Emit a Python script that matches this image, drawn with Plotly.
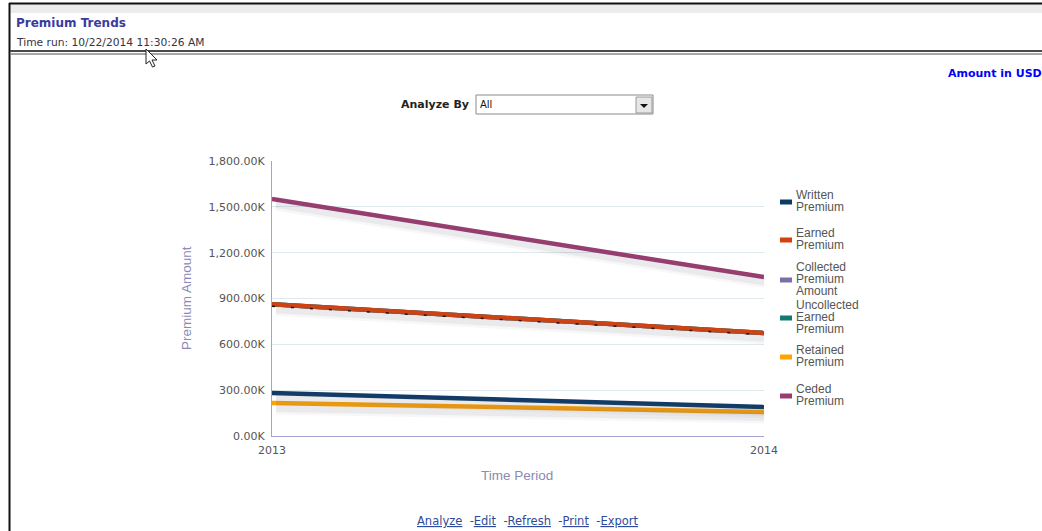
import plotly.graph_objects as go

# ---- data (amounts in thousands of USD) ----
periods = [2013, 2014]
written_premium = [281, 190]
earned_premium = [862, 674]
collected_premium = [862, 674]
uncollected_earned_premium = [862, 674]
retained_premium = [216, 157]
ceded_premium = [1551, 1040]
earned_trend = [849, 663]

series_names = ["Written<br>Premium", "Earned<br>Premium", "Collected<br>Premium<br>Amount",
                "Uncollected<br>Earned<br>Premium", "Retained<br>Premium", "Ceded<br>Premium"]
series_values = [written_premium, earned_premium, collected_premium,
                 uncollected_earned_premium, retained_premium, ceded_premium]
series_colors = ["#0e3a66", "#d4410f", "#7a70a8", "#14796e", "#ffa303", "#9b3b70"]
draw_order = [2, 3, 1, 5, 0, 4]  # back to front

y_tick_values = [0, 300, 600, 900, 1200, 1500, 1800]
y_tick_text = [f"{v:,.2f}K" for v in y_tick_values]

# ---- page geometry ----
W, H = 1042, 531
PL, PR, PT, PB = 272, 764, 161, 436


def px(x):
    return (x - PL) / (PR - PL)


def py(y):
    return (PB - y) / (PB - PT)


fig = go.Figure()

# soft drop shadow beneath each visible line, drawn on a slightly shifted overlay axis
for i in draw_order:
    if i in (2, 3):
        continue
    for w, a in ((13, 0.05), (8, 0.08)):
        fig.add_trace(go.Scatter(
            x=periods, y=series_values[i], mode="lines", xaxis="x2", yaxis="y2",
            line=dict(color=f"rgba(90,90,120,{a})", width=w), hoverinfo="skip", showlegend=False))

for i in draw_order:
    fig.add_trace(go.Scatter(
        x=periods, y=series_values[i], mode="lines", name=series_names[i].replace("<br>", " "),
        line=dict(color=series_colors[i], width=4.5), showlegend=False))
    if i == 1:
        fig.add_trace(go.Scatter(
            x=periods, y=earned_trend, mode="lines", hoverinfo="skip", showlegend=False,
            line=dict(color="#111111", width=1.5, dash="3px,16px")))

shapes = []
annotations = []

# legend: swatch plus stacked label lines
swatch_y = [202, 240, 280, 318, 357, 396]
for i, name in enumerate(series_names):
    cy = swatch_y[i]
    shapes.append(dict(type="rect", xref="paper", yref="paper",
                       x0=px(780), x1=px(792), y0=py(cy + 2.5), y1=py(cy - 2.5),
                       fillcolor=series_colors[i], line=dict(width=0)))
    lines = name.split("<br>")
    top = cy - 6 * (len(lines) - 1) - 1
    for k, t in enumerate(lines):
        annotations.append(dict(text=t, xref="paper", yref="paper", x=px(794), y=py(top + 12 * k),
                                xanchor="left", yanchor="middle", showarrow=False,
                                font=dict(family="Liberation Sans", size=12, color="#555555")))

# axis titles
annotations.append(dict(text="Premium Amount", xref="paper", yref="paper", x=px(186), y=py(298),
                        textangle=-90, showarrow=False, xanchor="center", yanchor="middle",
                        font=dict(family="Liberation Sans", size=13.5, color="#8a8ab4")))
annotations.append(dict(text="Time Period", xref="paper", yref="paper", x=px(517), y=py(475),
                        showarrow=False, xanchor="center", yanchor="middle",
                        font=dict(family="Liberation Sans", size=13.5, color="#8a8ab4")))

# page header
annotations.append(dict(text="<b>Premium Trends</b>", xref="paper", yref="paper", x=px(14), y=py(23),
                        showarrow=False, xanchor="left", yanchor="middle",
                        font=dict(family="DejaVu Sans", size=12, color="#3b3b9e")))
annotations.append(dict(text="Time run: 10/22/2014 11:30:26 AM", xref="paper", yref="paper",
                        x=px(14), y=py(43), showarrow=False, xanchor="left", yanchor="middle",
                        font=dict(family="DejaVu Sans", size=10.7, color="#333344")))
annotations.append(dict(text="<b>Amount in USD</b>", xref="paper", yref="paper", x=px(1044), y=py(74),
                        showarrow=False, xanchor="right", yanchor="middle",
                        font=dict(family="DejaVu Sans", size=11, color="#0000ff")))
annotations.append(dict(text="<b>Analyze By</b>", xref="paper", yref="paper", x=px(471), y=py(104),
                        showarrow=False, xanchor="right", yanchor="middle",
                        font=dict(family="DejaVu Sans", size=11, color="#222222")))
annotations.append(dict(text="All", xref="paper", yref="paper", x=px(478), y=py(104),
                        showarrow=False, xanchor="left", yanchor="middle",
                        font=dict(family="DejaVu Sans", size=10, color="#111111")))
annotations.append(dict(
    text="<u>Analyze</u>  -<u>Edit</u>  -<u>Refresh</u>  -<u>Print</u>  -<u>Export</u>",
    xref="paper", yref="paper", x=px(528), y=py(521), showarrow=False,
    xanchor="center", yanchor="middle",
    font=dict(family="DejaVu Sans", size=11.5, color="#2f4a9a")))


def line(x0, y0, x1, y1, color, width):
    shapes.append(dict(type="line", xref="paper", yref="paper", x0=px(x0), y0=py(y0),
                       x1=px(x1), y1=py(y1), line=dict(color=color, width=width)))


def rect(x0, y0, x1, y1, fill, border, bw=1):
    shapes.append(dict(type="rect", xref="paper", yref="paper", x0=px(x0), y0=py(y1),
                       x1=px(x1), y1=py(y0), fillcolor=fill, line=dict(color=border, width=bw)))


# frame and header rules
rect(10, 4, W, 13, "#ececec", "rgba(0,0,0,0)", 0)
line(9, 3.5, W, 3.5, "#111111", 2)
line(9.5, 3, 9.5, H, "#111111", 2)
line(10, 51, W, 51, "#4a4a4a", 2)
line(10, 54, W, 54, "#888888", 1.5)

# dropdown control
rect(476, 95, 653, 114, "#ffffff", "#8a8a8a")
rect(636, 97, 652, 113, "#e6e6e6", "#9a9a9a")
shapes.append(dict(type="path", xref="paper", yref="paper",
                   path=f"M {px(640)} {py(104)} L {px(648)} {py(104)} L {px(644)} {py(108)} Z",
                   fillcolor="#111111", line=dict(width=0)))

# mouse pointer
pts = [(146, 49), (146, 64), (149.5, 61), (152.5, 67), (155, 66), (152, 60), (157, 60)]
path = "M " + " L ".join(f"{px(a)} {py(b)}" for a, b in pts) + " Z"
shapes.append(dict(type="path", xref="paper", yref="paper", path=path,
                   fillcolor="#ffffff", line=dict(color="#222222", width=1)))

# shadow overlay offset (a few pixels right and down)
dx = 4 / (PR - PL)
dy = 5 / (PB - PT) * 1800

tick_font = dict(family="DejaVu Sans", size=11, color="#555555")
fig.update_layout(
    width=W, height=H,
    margin=dict(l=PL, r=W - PR, t=PT, b=H - PB),
    paper_bgcolor="#ffffff", plot_bgcolor="#ffffff",
    showlegend=False,
    xaxis=dict(range=[2013, 2014], tickvals=periods, ticktext=[str(p) for p in periods],
               showgrid=False, zeroline=False, showline=True, linecolor="#a3a3d3", linewidth=1,
               ticks="", tickfont=tick_font, ticklabelstandoff=4),
    yaxis=dict(range=[0, 1800], tickvals=y_tick_values, ticktext=y_tick_text,
               showgrid=True, gridcolor="#dfe8ec", gridwidth=1, zeroline=False,
               showline=True, linecolor="#a3a3d3", linewidth=1, ticks="", tickfont=tick_font,
               ticklabelstandoff=4),
    xaxis2=dict(range=[2013 - dx, 2014 - dx], overlaying="x", visible=False),
    yaxis2=dict(range=[dy, 1800 + dy], overlaying="y", visible=False),
    shapes=shapes,
    annotations=annotations,
)

fig.write_html("out.html")
